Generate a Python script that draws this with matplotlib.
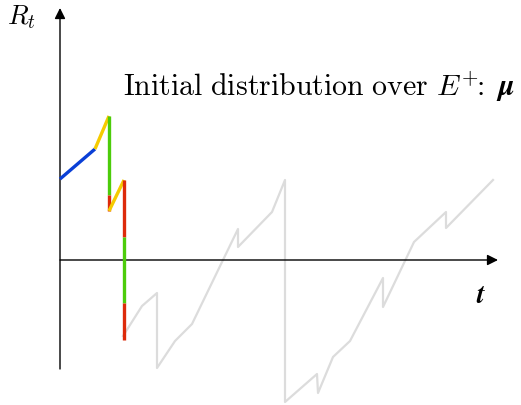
import matplotlib
matplotlib.use('Agg')
import matplotlib.pyplot as plt

plt.rcParams['mathtext.fontset'] = 'cm'
plt.rcParams['font.family'] = 'serif'
plt.rcParams['font.serif'] = ['cmr10', 'DejaVu Serif']

# coloured start of the path: (t0, R0, t1, R1) per segment
seg_t0 = [0.0, 3.5, 4.9, 4.9, 4.9, 6.4, 6.4, 6.4]
seg_r0 = [8.1, 11.1, 14.4, 6.5, 4.9, 8.0, 2.3, -4.3]
seg_t1 = [3.5, 4.9, 4.9, 4.9, 6.4, 6.4, 6.4, 6.4]
seg_r1 = [11.1, 14.4, 6.5, 4.9, 8.0, 2.3, -4.3, -8.0]
seg_col = ['#0a3fd6', '#f5cb00', '#4ccc0a', '#dd2a0a',
           '#f5cb00', '#dd2a0a', '#4ccc0a', '#dd2a0a']

# grey continuation of the path
grey_t = [6.3, 8.2, 9.7, 9.7, 11.5, 13.2, 17.8, 17.8, 21.2, 22.5, 22.5,
          25.7, 25.8, 27.3, 29.0, 32.3, 32.3, 35.4, 38.6, 38.6, 43.3]
grey_r = [-7.6, -4.6, -3.3, -10.8, -8.1, -6.4, 3.1, 1.3, 4.8, 8.0, -14.2,
          -11.4, -13.3, -9.7, -8.1, -1.8, -4.7, 1.8, 4.8, 3.2, 8.0]

fig = plt.figure(figsize=(5.21, 4.06), dpi=100)
ax = fig.add_axes([0, 0, 1, 1])
ax.set_xlim(-6.0, 46.1)
ax.set_ylim(-14.5, 26.1)
ax.axis('off')

ax.plot(grey_t, grey_r, color='#dcdcdc', lw=1.6, zorder=1)

# axes with arrows
ax.annotate('', xy=(43.8, 0), xytext=(0, 0),
            arrowprops=dict(arrowstyle='-|>', color='black', lw=1.0,
                            mutation_scale=16, shrinkA=0, shrinkB=0), zorder=2)
ax.annotate('', xy=(0, 25.2), xytext=(0, -10.9),
            arrowprops=dict(arrowstyle='-|>', color='black', lw=1.0,
                            mutation_scale=16, shrinkA=0, shrinkB=0), zorder=2)

for i in range(len(seg_t0)):
    ax.plot([seg_t0[i], seg_t1[i]], [seg_r0[i], seg_r1[i]],
            color=seg_col[i], lw=2.4, solid_capstyle='butt', zorder=3)

ax.text(-3.9, 24.4, r'$R_t$', fontsize=19.5, ha='center', va='center')
ax.text(42.1, -3.5, r'$\boldsymbol{t}$', fontsize=20, ha='center', va='center')
ax.text(6.3, 17.4,
        r'$\mathrm{Initial\ distribution\ over\ }E^{+}\!\!\mathrm{:}\ \boldsymbol{\mu}$',
        fontsize=21.5, ha='left', va='center')

fig.savefig('out.png', dpi=100)
